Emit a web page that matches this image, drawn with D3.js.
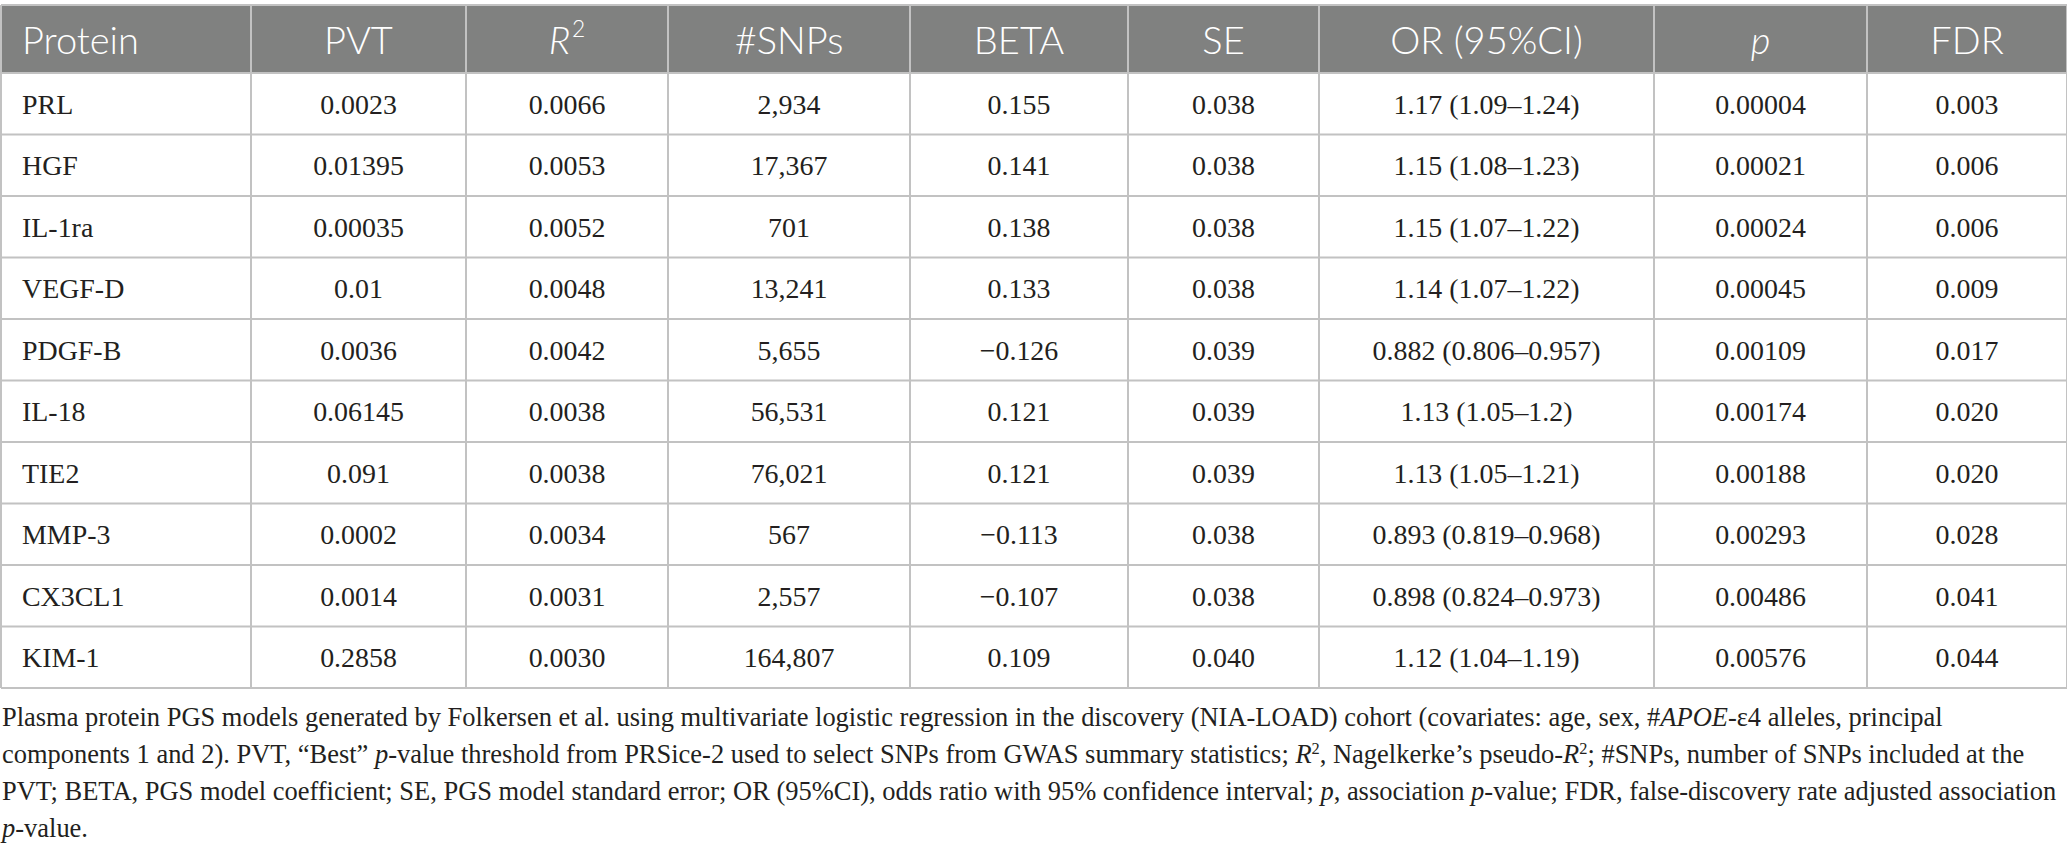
<!DOCTYPE html>
<html>
<head>
<meta charset="utf-8">
<script src="https://cdn.jsdelivr.net/npm/d3@7.9.0/dist/d3.min.js"></script>
<style>
  html, body { margin: 0; padding: 0; background: #fff; }
  svg { display: block; }
</style>
</head>
<body>
<div id="table"></div>
<script>
// --- data ---
const proteins = ['PRL', 'HGF', 'IL-1ra', 'VEGF-D', 'PDGF-B', 'IL-18', 'TIE2', 'MMP-3', 'CX3CL1', 'KIM-1'];
const pvt = [0.0023, 0.01395, 0.00035, 0.01, 0.0036, 0.06145, 0.091, 0.0002, 0.0014, 0.2858];
const r2 = [0.0066, 0.0053, 0.0052, 0.0048, 0.0042, 0.0038, 0.0038, 0.0034, 0.0031, 0.0030];
const snps = [2934, 17367, 701, 13241, 5655, 56531, 76021, 567, 2557, 164807];
const beta = [0.155, 0.141, 0.138, 0.133, -0.126, 0.121, 0.121, -0.113, -0.107, 0.109];
const se = [0.038, 0.038, 0.038, 0.038, 0.039, 0.039, 0.039, 0.038, 0.038, 0.040];
const orEst = [1.17, 1.15, 1.15, 1.14, 0.882, 1.13, 1.13, 0.893, 0.898, 1.12];
const orLow = [1.09, 1.08, 1.07, 1.07, 0.806, 1.05, 1.05, 0.819, 0.824, 1.04];
const orHigh = [1.24, 1.23, 1.22, 1.22, 0.957, 1.2, 1.21, 0.968, 0.973, 1.19];
const pval = [0.00004, 0.00021, 0.00024, 0.00045, 0.00109, 0.00174, 0.00188, 0.00293, 0.00486, 0.00576];
const fdr = [0.003, 0.006, 0.006, 0.009, 0.017, 0.020, 0.020, 0.028, 0.041, 0.044];

// header labels
const headers = [
  { t: 'Protein' }, { t: 'PVT' }, { t: 'R', it: true, sup: '2' }, { t: '#SNPs' },
  { t: 'BETA' }, { t: 'SE' }, { t: 'OR (95%CI)' }, { t: 'p', it: true }, { t: 'FDR' }
];

// footnote lines: [text, italic, superscript]
const footnote = [
  [['Plasma protein PGS models generated by Folkersen et al. using multivariate logistic regression in the discovery (NIA-LOAD) cohort (covariates: age, sex, #'], ['APOE', 1], ['-ε4 alleles, principal']],
  [['components 1 and 2). PVT, “Best” '], ['p', 1], ['-value threshold from PRSice-2 used to select SNPs from GWAS summary statistics; '], ['R', 1], ['2', 0, 1], [', Nagelkerke’s pseudo-'], ['R', 1], ['2', 0, 1], ['; #SNPs, number of SNPs included at the']],
  [['PVT; BETA, PGS model coefficient; SE, PGS model standard error; OR (95%CI), odds ratio with 95% confidence interval; '], ['p', 1], [', association '], ['p', 1], ['-value; FDR, false-discovery rate adjusted association']],
  [['p', 1], ['-value.']]
];

// --- layout ---
const width = 2067, height = 853;
const colWidths = [250, 215, 202, 242, 218, 191, 335, 213, 200];
const tableTop = 5, headerH = 68, rowH = 61.5;
const tableLeft = 1;
const serif = '"Liberation Serif", "Times New Roman", serif';
const sans = 'Lato, "Open Sans", sans-serif';

const colEdges = d3.cumsum([tableLeft, ...colWidths]);
const x = d3.scaleOrdinal().domain(d3.range(colWidths.length)).range(colEdges.slice(0, -1));
const y = d3.scaleBand()
  .domain(proteins)
  .range([tableTop + headerH, tableTop + headerH + rowH * proteins.length]);

const f3 = d3.format('.3f'), f4 = d3.format('.4f'), f5 = d3.format('.5f'), fc = d3.format(',');

const rows = proteins.map((p, i) => [
  p,
  String(pvt[i]),
  f4(r2[i]),
  fc(snps[i]),
  f3(beta[i]),
  f3(se[i]),
  `${orEst[i]} (${orLow[i]}–${orHigh[i]})`,
  f5(pval[i]),
  f3(fdr[i])
]);

const svg = d3.select('#table').append('svg')
  .attr('width', width).attr('height', height)
  .attr('viewBox', `0 0 ${width} ${height}`);

const tableRight = colEdges[colEdges.length - 1];
const tableBottom = y.range()[1];
const lineColor = '#c2c2c2';

// the original fonts differ in width from the local ones: size by measured width
function fitSize(text, family, target, style) {
  const probe = svg.append('text')
    .attr('font-family', family).attr('font-size', 100)
    .attr('font-style', style || null)
    .text(text);
  const w = probe.node().getComputedTextLength();
  probe.remove();
  return 100 * target / w;
}

// footnote
const note = svg.append('g')
  .attr('font-family', serif)
  .attr('font-size', 25)
  .attr('fill', '#231f20');

const noteLines = note.selectAll('text')
  .data(footnote)
  .join('text')
  .attr('x', 2)
  .attr('y', (d, i) => 726 + i * 37)
  .each(function (segs) {
    const t = d3.select(this);
    segs.forEach(([s, it, sup]) => {
      const ts = t.append('tspan').text(s);
      if (it) ts.attr('font-style', 'italic');
      if (sup) ts.attr('font-size', '0.62em').attr('baseline-shift', 'super');
    });
  });

const widest = d3.max(noteLines.nodes(), n => n.getComputedTextLength());
note.attr('font-size', 25 * 2055 / widest);

// header background
svg.append('rect')
  .attr('x', tableLeft).attr('y', tableTop)
  .attr('width', tableRight - tableLeft).attr('height', headerH)
  .attr('fill', '#808180');

// grid lines
const grid = svg.append('g').attr('stroke', lineColor).attr('stroke-width', 2);
grid.selectAll('line.h')
  .data([tableTop, ...proteins.map(p => y(p)), tableBottom])
  .join('line')
  .attr('class', 'h')
  .attr('x1', tableLeft).attr('x2', tableRight)
  .attr('y1', d => d).attr('y2', d => d);
grid.selectAll('line.v')
  .data(colEdges)
  .join('line')
  .attr('class', 'v')
  .attr('x1', d => d).attr('x2', d => d)
  .attr('y1', tableTop).attr('y2', tableBottom);

const cx = (j) => j === 0 ? x(j) + 21 : x(j) + colWidths[j] / 2;
const anchor = (j) => j === 0 ? 'start' : 'middle';

// header text
const headSize = fitSize('OR (95%CI)', sans, 195);
const head = svg.append('g')
  .attr('font-family', sans)
  .attr('font-size', headSize)
  .attr('font-weight', 300)
  .attr('fill', '#fff');

head.selectAll('text')
  .data(headers)
  .join('text')
  .attr('x', (d, j) => cx(j))
  .attr('y', tableTop + headerH / 2 + 1)
  .attr('dy', '0.36em')
  .attr('text-anchor', (d, j) => anchor(j))
  .each(function (d) {
    const t = d3.select(this);
    t.append('tspan').attr('font-style', d.it ? 'italic' : null).text(d.t);
    if (d.sup) {
      t.append('tspan').attr('font-size', '0.6em').attr('dy', '-0.75em').attr('dx', 2).text(d.sup);
    }
  });

// body text
const bodySize = fitSize('0.882 (0.806–0.957)', serif, 228);
const body = svg.append('g')
  .attr('font-family', serif)
  .attr('font-size', bodySize)
  .attr('fill', '#231f20');

body.selectAll('g.row')
  .data(rows)
  .join('g')
  .attr('class', 'row')
  .attr('transform', (d, i) => `translate(0, ${y(proteins[i]) + y.bandwidth() / 2})`)
  .selectAll('text')
  .data(d => d)
  .join('text')
  .attr('x', (d, j) => cx(j))
  .attr('dy', '0.35em')
  .attr('text-anchor', (d, j) => anchor(j))
  .text(d => d);
</script>
</body>
</html>
